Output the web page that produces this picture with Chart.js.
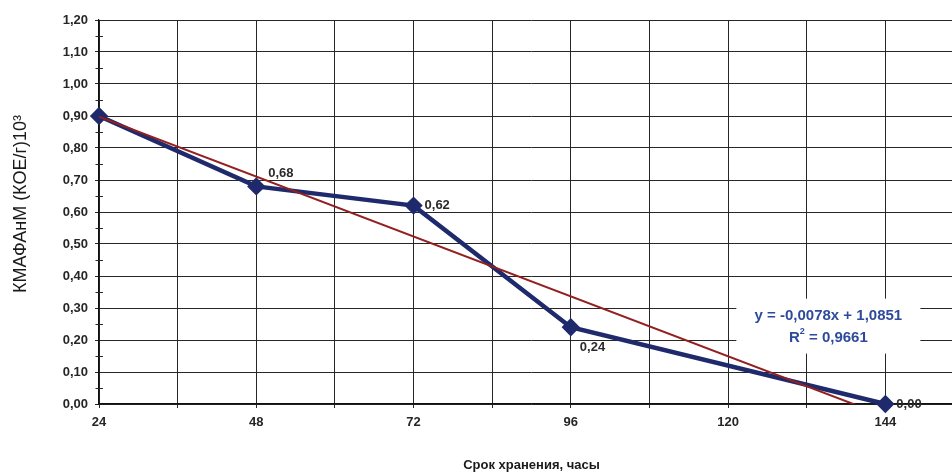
<!DOCTYPE html>
<html lang="ru">
<head>
<meta charset="utf-8">
<title>КМАФАнМ — срок хранения</title>
<script src="https://cdn.jsdelivr.net/npm/chart.js@4.4.1/dist/chart.umd.min.js"></script>
<style>
  html, body { margin: 0; padding: 0; background: #ffffff; overflow: hidden; }
  #wrap { width: 952px; height: 473px; overflow: hidden; }
  canvas { display: block; }
</style>
</head>
<body>
<div id="wrap"><canvas id="c" width="980" height="473"></canvas></div>
<script>
// Storage time, hours
const hours = [24, 48, 72, 96, 144];
// Microbial count, CFU/g ×10³
const counts = [0.90, 0.68, 0.62, 0.24, 0.00];
// Point labels (first point is left unlabeled)
const pointLabels = [null, '0,68', '0,62', '0,24', '0,00'];
// Label offsets from each point, px
const labelOffsets = [null, [12, -13], [11, 0], [9, 20], [11, 0]];

// Linear trend
const trendSlope = -0.0078;
const trendIntercept = 1.0851;
const trendR2 = 0.9661;
const trendRange = [24, 144];

const yTickValues = [0, 0.1, 0.2, 0.3, 0.4, 0.5, 0.6, 0.7, 0.8, 0.9, 1.0, 1.1, 1.2];
const xTickLabelled = [24, 48, 72, 96, 120, 144];
const yTitle = 'КМАФАнМ (КОЕ/г)10³';
const xTitle = 'Срок хранения, часы';

const fmt = (v, d) => v.toFixed(d).replace('.', ',');
const trendPoints = trendRange.map(x => ({ x, y: trendSlope * x + trendIntercept }));

const FONT = "'Liberation Sans', Arial, sans-serif";
const gridColor = '#262626';
const navy = '#1f2a6c';

// Minor "+" tick marks on the value axis at half steps
const minorTicks = {
  id: 'minorTicks',
  afterDraw(chart) {
    const { ctx } = chart;
    const y = chart.scales.y, x = chart.scales.x;
    const x0 = x.getPixelForValue(x.min);
    ctx.save();
    ctx.strokeStyle = gridColor;
    ctx.lineWidth = 1;
    for (let i = 0; i < yTickValues.length - 1; i++) {
      const v = (yTickValues[i] + yTickValues[i + 1]) / 2;
      const py = Math.round(y.getPixelForValue(v)) + 0.5;
      ctx.beginPath();
      ctx.moveTo(x0 - 3.5, py);
      ctx.lineTo(x0 + 4, py);
      ctx.stroke();
    }
    ctx.restore();
  }
};

// Vertical title of the value axis
const valueAxisTitle = {
  id: 'valueAxisTitle',
  afterDraw(chart) {
    const { ctx, chartArea } = chart;
    const cy = (chartArea.top + chartArea.bottom) / 2 - 8;
    ctx.save();
    ctx.translate(21, cy);
    ctx.rotate(-Math.PI / 2);
    ctx.font = '18px ' + FONT;
    ctx.fillStyle = '#1a1a1a';
    ctx.textAlign = 'center';
    ctx.textBaseline = 'middle';
    ctx.fillText(yTitle, 0, 0);
    ctx.restore();
  }
};

// Value labels next to the measured points
const valueLabels = {
  id: 'valueLabels',
  afterDatasetsDraw(chart) {
    const { ctx } = chart;
    const meta = chart.getDatasetMeta(1);
    ctx.save();
    ctx.font = 'bold 13px ' + FONT;
    ctx.fillStyle = '#2b2b2b';
    ctx.textBaseline = 'middle';
    ctx.textAlign = 'left';
    meta.data.forEach((pt, i) => {
      if (!pointLabels[i]) return;
      const [dx, dy] = labelOffsets[i];
      ctx.fillText(pointLabels[i], pt.x + dx, pt.y + dy);
    });
    ctx.restore();
  }
};

// Trend equation box
const trendEquation = {
  id: 'trendEquation',
  afterDatasetsDraw(chart) {
    const { ctx } = chart;
    const sx = chart.scales.x, sy = chart.scales.y;
    const cx = sx.getPixelForValue(135.3);
    const cy = sy.getPixelForValue(0.245);
    ctx.save();
    ctx.fillStyle = '#ffffff';
    ctx.fillRect(cx - 92, cy - 27, 184, 55);
    ctx.fillStyle = '#2e4a9c';
    ctx.textAlign = 'center';
    ctx.textBaseline = 'middle';
    ctx.font = 'bold 15px ' + FONT;
    const eq = 'y = ' + fmt(trendSlope, 4) + 'x + ' + fmt(trendIntercept, 4);
    ctx.fillText(eq, cx, cy - 10);
    const rest = ' = ' + fmt(trendR2, 4);
    const wR = ctx.measureText('R').width;
    ctx.font = 'bold 9px ' + FONT;
    const w2 = ctx.measureText('2').width;
    ctx.font = 'bold 15px ' + FONT;
    const wRest = ctx.measureText(rest).width;
    const total = wR + w2 + wRest;
    const left = cx - total / 2;
    ctx.textAlign = 'left';
    ctx.fillText('R', left, cy + 12);
    ctx.font = 'bold 9px ' + FONT;
    ctx.fillText('2', left + wR, cy + 6);
    ctx.font = 'bold 15px ' + FONT;
    ctx.fillText(rest, left + wR + w2, cy + 12);
    ctx.restore();
  }
};

new Chart(document.getElementById('c'), {
  type: 'line',
  data: {
    datasets: [
      {
        label: 'Линейная',
        data: trendPoints,
        borderColor: '#931f1f',
        borderWidth: 2,
        pointRadius: 0,
        tension: 0,
        clip: 0,
        order: 0
      },
      {
        label: 'КМАФАнМ',
        data: hours.map((h, i) => ({ x: h, y: counts[i] })),
        borderColor: navy,
        backgroundColor: navy,
        borderWidth: 4.5,
        pointStyle: 'rectRot',
        pointRadius: 6,
        pointBackgroundColor: navy,
        pointBorderColor: navy,
        tension: 0,
        clip: false,
        order: 1
      }
    ]
  },
  options: {
    responsive: false,
    animation: false,
    devicePixelRatio: 1,
    layout: { padding: { left: 0, top: 20, right: 16, bottom: 0 } },
    plugins: { legend: { display: false }, tooltip: { enabled: false } },
    scales: {
      x: {
        type: 'linear',
        min: 24,
        max: 156,
        afterBuildTicks(scale) {
          const t = [];
          for (let v = 24; v <= 156; v += 12) t.push({ value: v });
          scale.ticks = t;
        },
        afterFit(scale) { scale.height = 69; },
        grid: { color: gridColor, lineWidth: 1, tickLength: 4, tickColor: gridColor },
        border: { display: true, color: '#111', width: 1.2 },
        ticks: {
          autoSkip: false,
          maxRotation: 0,
          padding: 7,
          color: '#262626',
          font: { family: FONT, size: 13, weight: 'bold' },
          callback: v => xTickLabelled.includes(v) ? String(v) : ''
        },
        title: {
          display: true,
          text: xTitle,
          color: '#1a1a1a',
          font: { family: FONT, size: 13, weight: 'bold' },
          padding: { top: 0, bottom: 0 }
        }
      },
      y: {
        type: 'linear',
        min: 0,
        max: 1.2,
        afterBuildTicks(scale) { scale.ticks = yTickValues.map(v => ({ value: v })); },
        afterFit(scale) { scale.width = 99; },
        grid: { color: gridColor, lineWidth: 1, tickLength: 4, tickColor: gridColor },
        border: { display: true, color: '#111', width: 1.2 },
        ticks: {
          autoSkip: false,
          padding: 7,
          color: '#262626',
          font: { family: FONT, size: 13, weight: 'bold' },
          callback: v => fmt(v, 2)
        }
      }
    }
  },
  plugins: [minorTicks, valueAxisTitle, valueLabels, trendEquation]
});
</script>
</body>
</html>
